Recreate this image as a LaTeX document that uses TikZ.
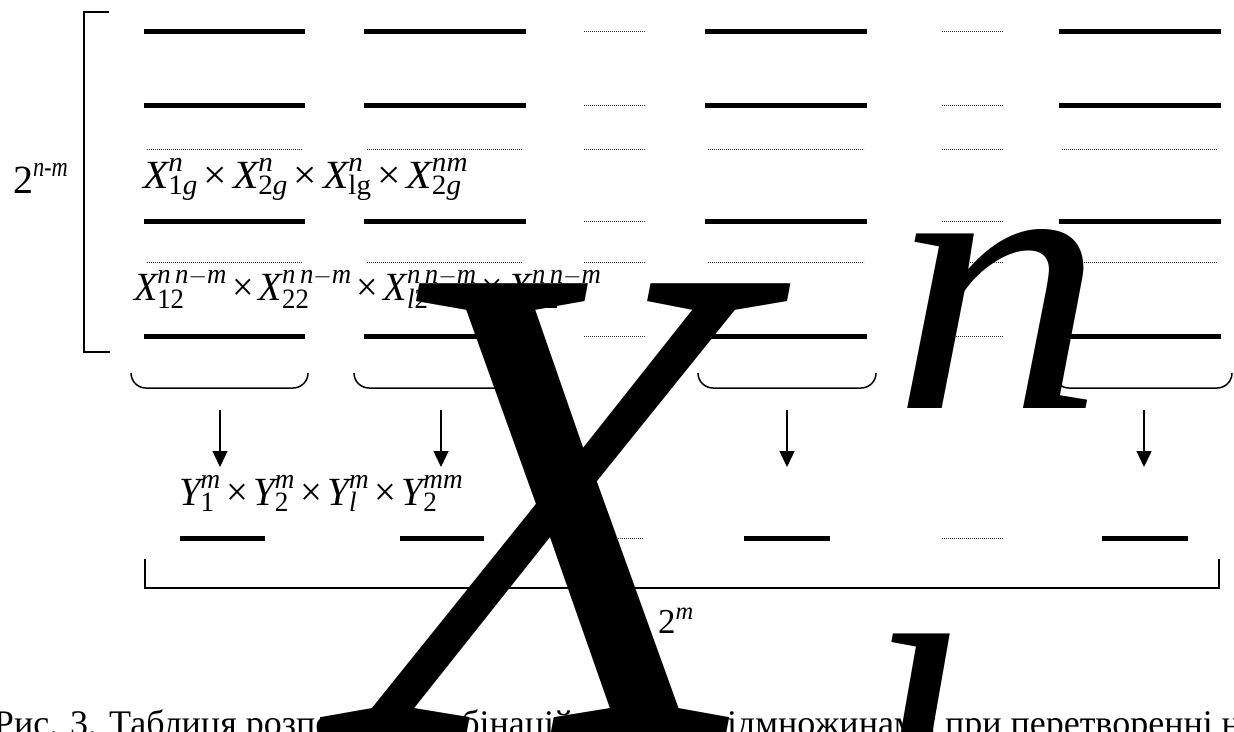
\documentclass[tikz,border=0pt]{standalone}
\usepackage{amsmath}
\usepackage{graphicx}
\usepackage{fontspec}
\setmainfont{Liberation Serif}
\usetikzlibrary{arrows.meta}
\newcommand{\iv}[1]{\text{\itshape #1}}
\newcommand{\uv}[1]{\text{\upshape #1}}
\newcommand{\tm}{\mathbin{\text{\upshape ×}}}
\tikzset{
  thickline/.style={line width=5pt},
  dotline/.style={line width=1pt, dash pattern=on 0.8pt off 1.2pt, black!80},
  thinline/.style={line width=1.5pt},
  arr/.style={line width=1.5pt, -{Triangle[length=16pt,width=15pt]}},
  txt/.style={inner sep=0pt, outer sep=0pt, anchor=base west},
  giant/.style={inner sep=0pt, outer sep=0pt, anchor=base west, font=\itshape},
}
\begin{document}
\begin{tikzpicture}[x=1pt,y=-1pt]
\useasboundingbox (0,0) rectangle (1234,731);
\clip (0,0) rectangle (1234,731);
% thick lines of the table
\foreach \xa/\xb in {144/305,364/526,705/867,1059/1221}{
  \foreach \yy in {31,105,221,336}{
    \draw[thickline] (\xa,\yy) -- (\xb,\yy);
  }
  \foreach \yy in {149,262}{
    \draw[dotline] (\xa+3,\yy) -- (\xb-3,\yy);
  }
}
% dotted columns
\foreach \xa/\xb in {584/646,942/1003}{
  \foreach \yy in {31,105,149,221,262,336}{
    \draw[dotline] (\xa,\yy) -- (\xb,\yy);
  }
}
% left bracket
\draw[thinline] (109,12) -- (84,12) -- (84,352) -- (110,352);
\node[txt] (lab2nm) at (13,193) {\fontsize{40}{44}\selectfont $\uv{2}^{\text{\scalebox{0.8}[1]{\itshape n-m}}}$};
% formulas in table
\node[txt] (f1) at (143,188) {\fontsize{40}{44}\selectfont\scalebox{1.04}[1]{$\iv{X}_{\uv{1}\iv{g}}^{\iv{n}}\tm\iv{X}_{\uv{2}\iv{g}}^{\iv{n}}\tm\iv{X}_{\uv{lg}}^{\iv{n}}\tm\iv{X}_{\uv{2}\iv{g}}^{\iv{nm}}$}};
\node[txt] (f2) at (134,300) {\fontsize{40}{44}\selectfont\scalebox{0.955}[1]{$\iv{X}_{\uv{12}}^{\iv{n\,n}-\iv{m}}\tm\iv{X}_{\uv{22}}^{\iv{n\,n}-\iv{m}}\tm\iv{X}_{\iv{l}\uv{2}}^{\iv{n\,n}-\iv{m}}\tm\iv{X}_{\uv{22}}^{\iv{n\,n}-\iv{m}}$}};
% braces
\foreach \xa/\xb [count=\i] in {131/308,354/532,698/876,1054/1232}{
  \draw[thinline] (\xa,373) to[out=-90,in=180] (\xa+15,388) -- (\xb-15,388) to[out=0,in=-90] (\xb,373);
}
% arrows
\foreach \xx [count=\i] in {220,441,787,1144}{
  \coordinate (as\i) at (\xx,410);
  \coordinate (ae\i) at (\xx,467);
  \draw[arr] (as\i) -- (ae\i);
}
\node[txt] (fy) at (179,505) {\fontsize{40}{44}\selectfont\scalebox{0.97}[1]{$\iv{Y}_{\uv{1}}^{\iv{m}}\tm\iv{Y}_{\uv{2}}^{\iv{m}}\tm\iv{Y}_{\iv{l}}^{\iv{m}}\tm\iv{Y}_{\uv{2}}^{\iv{mm}}$}};
% bottom row
\foreach \xa/\xb in {180/265,400/484,744/830,1102/1188}{
  \draw[thickline] (\xa,538) -- (\xb,538);
}
\foreach \xa/\xb in {612/643,942/1003}{
  \draw[dotline] (\xa,538) -- (\xb,538);
}
% bottom bracket
\draw[thinline] (145,559) -- (145,588) -- (1219,588) -- (1219,559);
\node[txt] (lab2m) at (658,633) {\fontsize{35}{40}\selectfont $\uv{2}^{\iv{m}}$};
% caption
\node[txt] (cap) at (-6,735) {\fontsize{36}{40}\selectfont Рис. 3. Таблиця розподілу комбінацій по двох підмножинами при перетворенні н};
% giant formula on top
\node[giant] (bigX) at (340,735) {\fontsize{690}{690}\selectfont\scalebox{1.015}[1]{X}};
\node[giant] (bign) at (892,408) {\fontsize{380}{380}\selectfont\scalebox{1.12}[1]{n}};
\node[giant] (bigl) at (850,904) {\fontsize{390}{390}\selectfont l};
\end{tikzpicture}
\end{document}
